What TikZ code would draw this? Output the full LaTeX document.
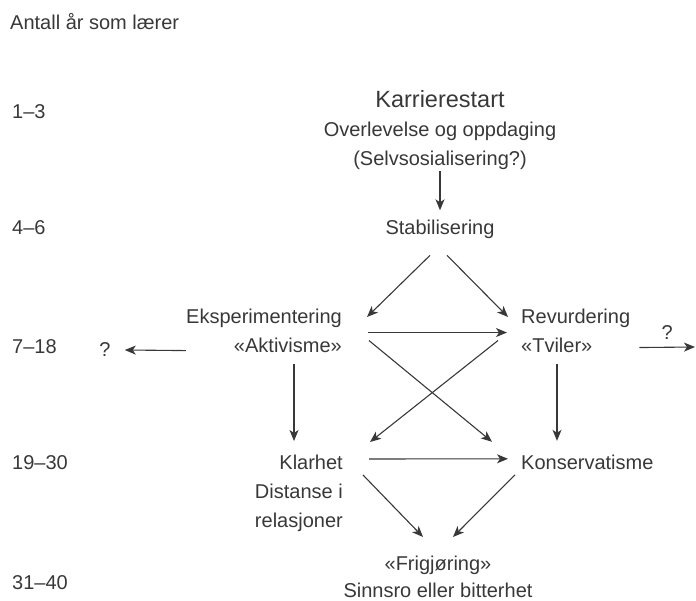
\documentclass[tikz,border=0pt]{standalone}
\usepackage{fontspec}
\setmainfont{Liberation Sans}
\usepackage{tikz}
\usetikzlibrary{arrows.meta}
\definecolor{ink}{HTML}{383838}
\tikzstyle{phase}=[inner sep=0pt, text=ink]
\tikzstyle{years}=[phase, anchor=base west]
\tikzstyle{conn}=[->, draw=ink, line width=1.1pt]

\begin{document}
\begin{tikzpicture}[x=1pt,y=-1pt,>={Stealth[length=11pt,width=9pt,inset=3pt]},font=\fontsize{20}{29}\selectfont]
\useasboundingbox (0,0) rectangle (696,601);
\node [years] (head) at (10,30) {Antall år som lærer};
\node [years] (y1) at (12,119) {1--3};
\node [years] (y2) at (12,235) {4--6};
\node [years] (y3) at (12,354) {7--18};
\node [years] (y4) at (12,469) {19--30};
\node [years] (y5) at (12,589) {31--40};
\node [phase, anchor=north, align=center] (karriere) at (440,90) {{\fontsize{23.5}{29}\selectfont Karrierestart}\\Overlevelse og oppdaging\\(Selvsosialisering?)};
\node [phase, anchor=base] (stab) at (440,235) {Stabilisering};
\node [phase, anchor=north east, align=right] (eksp) at (342,308.5) {Eksperimentering\\«Aktivisme»};
\node [phase, anchor=north west, align=left] (rev) at (521,308.5) {Revurdering\\«Tviler»};
\node [phase, anchor=north east, align=right] (klar) at (343,454.5) {Klarhet\\Distanse i\\relasjoner};
\node [phase, anchor=base west] (kons) at (521,469) {Konservatisme};
\node [phase, anchor=north, align=center, font=\fontsize{20}{27}\selectfont] (frig) at (438,555.5) {«Frigjøring»\\Sinnsro eller bitterhet};
\node [phase] (q1) at (105,350) {?};
\coordinate (exit) at (695,347);
\draw [conn] ([shift={(0,1.5)}]karriere.south) -- ([shift={(0,-10)}]stab.north);
\draw [conn] ([shift={(-10,16)}]stab.south) -- ([shift={(25,8.5)}]eksp.north east);
\draw [conn] ([shift={(7,16)}]stab.south) -- ([shift={(-13,8.5)}]rev.north west);
\draw [conn] ([shift={(26,2)}]eksp.east) -- ([shift={(-14,2)}]rev.west);
\draw [conn] ([shift={(27,10)}]eksp.east) -- ([shift={(-29,-12.5)}]kons.north west);
\draw [conn] ([shift={(-23,10)}]rev.west) -- ([shift={(27,-12.5)}]klar.north east);
\draw [conn] ([shift={(-48,11)}]eksp.south east) -- ([shift={(-49,-13.5)}]klar.north east);
\draw [conn] ([shift={(36,11)}]rev.south west) -- ([shift={(36,-13.5)}]kons.north west);
\draw [conn] ([shift={(26,4.5)}]klar.north east) -- ([shift={(-13,4.5)}]kons.north west);
\draw [conn] ([shift={(20,20.5)}]klar.north east) -- ([shift={(-15,-18.5)}]frig.north);
\draw [conn] ([shift={(-6,20.5)}]kons.north west) -- ([shift={(15,-18.5)}]frig.north);
\draw [conn] ([shift={(0,-2)}]eksp.south west) -- ([shift={(14,0)}]q1.east);
\draw [conn] ([shift={(9,17)}]rev.east) -- node [phase, above=7pt] (q2) {?} (exit);
\end{tikzpicture}
\end{document}
